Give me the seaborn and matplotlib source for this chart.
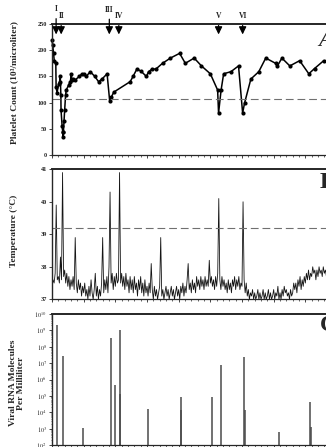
import numpy as np
import matplotlib
matplotlib.use("Agg")
import matplotlib.pyplot as plt
import seaborn as sns

# Panel A: platelet count (10^3 / microliter) over time (days)
platelet_day = [0.0, 0.2, 0.5, 0.7, 1.2, 1.3, 1.6, 2.1, 2.4, 2.6, 2.8, 2.85, 3.2, 3.4,
                3.45, 3.6, 3.8, 4.0, 4.3, 4.5, 5.3, 5.8, 6.1, 6.3, 6.6, 7.3, 8.6, 9.5,
                10.0, 10.8, 12.1, 13.5, 14.7, 15.8, 17.4, 18.2, 18.7, 19.5, 24.7, 25.6,
                26.8, 28.1, 29.8, 30.5, 31.6, 32.8, 34.9, 37.4, 40.3, 42.1, 44.9, 47.2,
                50.0, 52.3, 52.6, 53.4, 54.2, 56.5, 58.9, 60.2, 60.8, 62.8, 65.3, 67.5,
                70.6, 71.1, 72.6, 75.1, 78.2, 81.1, 82.9, 85.8, 87.9]
platelet_count = [220, 210, 194, 180, 175, 129, 119, 136, 140, 150, 115, 86, 55, 43,
                  34, 43, 65, 86, 115, 124, 134, 140, 155, 143, 145, 143, 150, 155,
                  155, 150, 159, 150, 140, 145, 155, 104, 110, 120, 140, 150,
                  164, 160, 150, 159, 164, 164, 175, 185, 194, 175, 185, 170,
                  155, 124, 80, 124, 155, 159, 170, 80, 99, 145, 159, 185,
                  175, 169, 185, 170, 180, 155, 165, 180, 175]
platelet_threshold = 107

# episode markers
episode_labels = ["I", "II", "III", "IV", "V", "VI"]
episode_day = [1.3, 2.9, 18.1, 21.1, 52.6, 60.2]

# Panel B: body temperature (deg C), 3 readings per day
temperature = [
    37.4, 37.6, 37.5, 37.8, 39.9, 37.6, 37.7, 37.5, 38.3, 37.6, 40.9, 37.7,
    37.9, 37.5, 37.8, 37.4, 37.7, 37.3, 37.6, 37.4, 37.7, 37.3, 38.9, 37.5,
    37.2, 37.6, 37.3, 37.5, 37.1, 37.4,
    37.2, 37.5, 37.1, 37.3, 37.0, 37.4, 37.1, 37.6, 37.2, 37.0, 37.3, 37.8,
    37.1, 37.4, 37.0, 37.3, 37.1, 37.5, 38.9, 37.2, 37.6, 37.3, 37.7, 37.2,
    38.0, 40.3, 37.5, 37.8, 37.3, 37.7,
    37.4, 37.8, 37.5, 37.6, 40.9, 37.5, 37.8, 37.4, 37.7, 37.3, 37.8, 37.4,
    37.6, 37.2, 37.7, 37.3, 37.6, 37.2, 37.7, 37.3, 37.5, 37.1, 37.6, 37.3,
    37.7, 37.2, 37.5, 37.1, 37.6, 37.2,
    37.4, 37.1, 37.5, 37.2, 38.1, 37.3, 37.0, 37.4, 37.1, 37.3, 37.0, 37.2,
    37.4, 38.9, 37.1, 37.3, 37.0, 37.2, 37.4, 37.1, 37.3, 37.0, 37.2, 37.4,
    37.1, 37.3, 37.0, 37.2, 37.4, 37.1,
    37.3, 37.0, 37.4, 37.2, 37.5, 37.1, 37.4, 37.2, 37.6, 38.1, 37.3, 37.5,
    37.2, 37.6, 37.3, 37.5, 37.2, 37.7, 37.4, 37.6, 37.3, 37.7, 37.4, 37.6,
    37.3, 37.7, 37.4, 37.6, 37.4, 38.2,
    37.5, 37.7, 37.4, 37.6, 37.3, 37.7, 37.4, 37.8, 40.1, 37.6, 37.3, 37.7,
    37.4, 37.6, 37.3, 37.5, 37.2, 37.6, 37.3, 37.5, 37.2, 37.6, 37.4, 37.7,
    37.3, 37.6, 37.4, 37.7, 37.3, 37.5,
    37.4, 40.0, 37.6, 37.2, 37.5, 37.1, 37.3, 37.0, 37.2, 37.1, 37.3, 37.0,
    37.2, 37.0, 37.1, 37.3, 37.0, 37.2, 37.0, 37.1, 37.3, 37.0, 37.2, 37.0,
    37.1, 37.3, 37.0, 37.2, 37.0, 37.1,
    37.3, 37.0, 37.2, 37.1, 37.4, 37.0, 37.2, 37.0, 37.3, 37.1, 37.4, 37.2,
    37.3, 37.1, 37.2, 37.0, 37.3, 37.1, 37.2, 37.5, 37.3, 37.5, 37.2, 37.6,
    37.4, 37.7, 37.3, 37.6, 37.4, 37.7,
    37.5, 37.8, 37.6, 37.9, 37.6, 37.8, 37.7, 38.0, 37.8, 37.9, 37.6, 37.9,
    37.7, 38.0, 37.8, 37.9, 37.7, 38.0, 37.8, 37.9, 37.7, 38.0, 37.8, 37.9,
    37.8,
]
temp_day = np.arange(len(temperature)) / 3.0
fever_threshold = 39.18

# Panel C: viral RNA molecules per milliliter
viral_day = [1.5, 3.4, 9.9, 18.7, 19.8, 21.4, 21.5, 30.4, 40.7, 40.8, 50.6,
             53.3, 60.7, 60.8, 71.7, 81.6, 81.7]
viral_load = [2.2e9, 2.6e7, 1.05e3, 3.4e8, 4.7e5, 1.0e9, 1.3e5, 1.6e4, 8.0e4,
              1.3e4, 8.5e4, 7.5e6, 2.5e7, 1.3e4, 6.0e2, 4.5e4, 1.2e3]

sns.set_style("ticks")
plt.rcParams["font.family"] = ["Liberation Serif", "DejaVu Serif"]
plt.rcParams["mathtext.fontset"] = "stix"

W, H = 326, 447
fig = plt.figure(figsize=(W / 100, H / 100), dpi=100)

left = 52 / W
width = 285 / W


def make_ax(top_px, bottom_px):
    return fig.add_axes([left, 1 - bottom_px / H, width, (bottom_px - top_px) / H])


ax_a = make_ax(24, 155)
ax_b = make_ax(169.3, 299.3)
ax_c = make_ax(314, 445)

tick_kw = dict(labelsize=4.5, width=0.6, length=2.2, direction="out", pad=1.5)
for ax in (ax_a, ax_b, ax_c):
    ax.set_xlim(0, 90)
    ax.set_xticks(np.arange(0, 91, 10))
    ax.set_xticks(np.arange(0, 91, 2), minor=True)
    ax.tick_params(axis="x", which="major", length=2.5, width=0.6, labelbottom=False)
    ax.tick_params(axis="x", which="minor", length=1.6, width=0.5)
    ax.tick_params(axis="y", **tick_kw)
    for lab in ax.get_yticklabels():
        lab.set_fontweight("bold")
    ax.spines["left"].set_linewidth(1.0)
    ax.spines["bottom"].set_linewidth(0.9)
    ax.spines["top"].set_linewidth(1.4)
    ax.spines["right"].set_visible(False)
    ax.set_xlabel("")
    ax.set_facecolor("white")

# --- Panel A
sns.lineplot(x=platelet_day, y=platelet_count, ax=ax_a, color="black", lw=1.1,
             marker="o", markersize=3.0, markeredgewidth=0, estimator=None,
             sort=False, clip_on=False)
ax_a.axhline(platelet_threshold, color="#707070", lw=0.8, dashes=(7, 3.5))
ax_a.set_ylim(0, 250)
ax_a.set_yticks(np.arange(0, 251, 50))
ax_a.set_ylabel("")
label_y = [278, 265, 277, 265, 265, 265]
for lab, d, ly in zip(episode_labels, episode_day, label_y):
    ax_a.annotate(lab, xy=(d, 230), xytext=(d, ly), ha="center", va="center",
                  fontsize=5.5, fontweight="bold", annotation_clip=False,
                  arrowprops=dict(arrowstyle="-|>,head_length=0.45,head_width=0.22",
                                  color="black", lw=0.9, shrinkA=1.5, shrinkB=0,
                                  mutation_scale=10))
ax_a.text(84.0, 219, "A", fontsize=17, fontstyle="italic", va="center", ha="left",
          clip_on=False)

# --- Panel B
sns.lineplot(x=temp_day, y=temperature, ax=ax_b, color="#151515", lw=0.6,
             estimator=None, sort=False)
ax_b.axhline(fever_threshold, color="#707070", lw=0.8, dashes=(7, 3.5))
ax_b.set_ylim(37, 41)
ax_b.set_yticks([37, 38, 39, 40, 41])
ax_b.set_ylabel("")
ax_b.text(84.5, 40.6, "B", fontsize=17, fontweight="bold", va="center", ha="left")

# --- Panel C
ax_c.set_yscale("log")
ax_c.vlines(viral_day, 1e2, viral_load, color="#4a4a4a", lw=1.1)
ax_c.set_ylim(1e2, 1e10)
ax_c.set_yticks([10.0 ** k for k in range(2, 11)])
ax_c.set_yticklabels([f"$10^{{{k}}}$" for k in range(2, 11)])
ax_c.yaxis.set_minor_locator(matplotlib.ticker.LogLocator(base=10, subs=np.arange(2, 10)))
ax_c.tick_params(axis="y", which="minor", length=1.0, width=0.4)
ax_c.tick_params(axis="y", which="major", labelsize=4.5)
ax_c.set_ylabel("")
ax_c.text(84.7, 2e9, "C", fontsize=17, fontweight="bold", va="center", ha="left")

# y labels
fig.text(14 / W, 1 - 83 / H, "Platelet Count (10³/microliter)", rotation=90,
         ha="center", va="center", fontsize=6.8, fontweight="bold")
fig.text(14 / W, 1 - 231 / H, "Temperature (°C)", rotation=90,
         ha="center", va="center", fontsize=6.8, fontweight="bold")
fig.text(17 / W, 1 - 383 / H, "Viral RNA Molecules\nPer Milliliter", rotation=90,
         ha="center", va="center", fontsize=6.8, fontweight="bold", linespacing=1.1)

fig.savefig("out.png", dpi=100)
